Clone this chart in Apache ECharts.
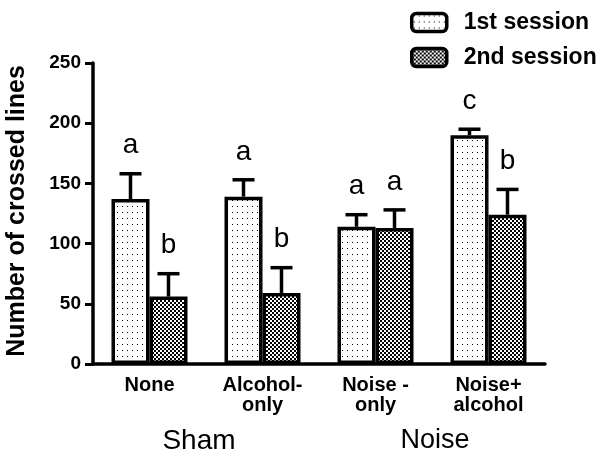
<!DOCTYPE html>
<html>
<head>
<meta charset="utf-8">
<script src="https://cdn.jsdelivr.net/npm/echarts@6/dist/echarts.min.js"></script>
<style>
  html, body { margin: 0; padding: 0; background: #fff; }
  #chart { width: 604px; height: 455px; }
</style>
</head>
<body>
<div id="chart"></div>
<script>
// Treatment groups along the x axis
const categories = ['None', 'Alcohol-\nonly', 'Noise -\nonly', 'Noise+\nalcohol'];
// Outer grouping labels (Sham: first two, Noise: last two)
const groupNames = ['Sham', 'Noise'];
// Mean number of crossed lines
const session1 = [137, 139, 114, 190];
const session2 = [56, 59, 113, 124];
// Standard error (upper whisker only)
const session1Err = [21, 14, 10, 5];
const session2Err = [19, 21, 15, 21];
// Significance letters above each bar
const session1Letters = ['a', 'a', 'a', 'c'];
const session2Letters = ['b', 'b', 'a', 'b'];
// Y axis ticks
const yTicks = [0, 50, 100, 150, 200, 250];

const FONT = '"Liberation Sans", Arial, Helvetica, sans-serif';
const BAR_W = 38;
const STROKE = 3.5;

// Fine dot fill for the first session
function dotPattern() {
  const c = document.createElement('canvas');
  c.width = 5; c.height = 6;
  const g = c.getContext('2d');
  g.fillStyle = '#fff'; g.fillRect(0, 0, 5, 6);
  g.fillStyle = '#000'; g.fillRect(2, 2, 1, 1);
  return c;
}
// Checkerboard fill for the second session
function checkPattern() {
  const c = document.createElement('canvas');
  c.width = 4; c.height = 4;
  const g = c.getContext('2d');
  g.fillStyle = '#fff'; g.fillRect(0, 0, 4, 4);
  g.fillStyle = '#000';
  g.fillRect(0, 0, 2, 2);
  g.fillRect(2, 2, 2, 2);
  return c;
}
const fill1 = { image: dotPattern(), repeat: 'repeat' };
const fill2 = { image: checkPattern(), repeat: 'repeat' };

function errorData(means, errs) {
  return means.map((m, i) => [i, m, errs[i]]);
}

// Upper error whisker with cap, plus significance letter
function makeErrorRender(offset, letters) {
  return function (params, api) {
    const idx = api.value(0);
    const mean = api.value(1);
    const err = api.value(2);
    const top = api.coord([idx, mean]);
    const end = api.coord([idx, mean + err]);
    const x = top[0] + offset;
    const capHalf = 11;
    const lineStyle = { stroke: '#000', lineWidth: STROKE };
    return {
      type: 'group',
      children: [
        { type: 'line', shape: { x1: x, y1: top[1], x2: x, y2: end[1] }, style: lineStyle },
        { type: 'line', shape: { x1: x - capHalf, y1: end[1], x2: x + capHalf, y2: end[1] }, style: lineStyle },
        {
          type: 'text',
          x: x, y: end[1] - 14,
          style: {
            text: letters[idx], fill: '#000', font: '28px ' + FONT,
            align: 'center', verticalAlign: 'bottom'
          }
        }
      ]
    };
  };
}

const chart = echarts.init(document.getElementById('chart'), null, { renderer: 'canvas' });

const yTitle = {
  type: 'text', x: 17, y: 211, rotation: Math.PI / 2,
  style: {
    text: 'Number of crossed lines', fill: '#000',
    font: 'bold 25px ' + FONT, align: 'center', verticalAlign: 'middle'
  }
};

const option = {
  backgroundColor: '#fff',
  animation: false,
  grid: { left: 93, right: 59, top: 63, bottom: 91, containLabel: false },
  legend: {
    orient: 'vertical',
    left: 410, top: 11, padding: 0,
    itemWidth: 35, itemHeight: 18, itemGap: 12,
    icon: 'roundRect',
    data: ['1st session', '2nd session'],
    itemStyle: { borderColor: '#000', borderWidth: STROKE },
    textStyle: { fontFamily: FONT, fontSize: 23, fontWeight: 'bold', color: '#000', padding: [0, 0, 0, 12] }
  },
  xAxis: {
    type: 'category',
    data: categories,
    axisLine: { lineStyle: { color: '#000', width: STROKE } },
    axisTick: { show: false },
    axisLabel: {
      color: '#000', fontFamily: FONT, fontSize: 20, fontWeight: 'bold',
      lineHeight: 20, margin: 11, interval: 0
    }
  },
  yAxis: {
    type: 'value',
    min: yTicks[0], max: yTicks[yTicks.length - 1], interval: 50,
    axisLine: { show: true, lineStyle: { color: '#000', width: STROKE } },
    axisTick: { show: true, length: 8, lineStyle: { color: '#000', width: 3 } },
    axisLabel: { color: '#000', fontFamily: FONT, fontSize: 19, fontWeight: 'bold', margin: 12 },
    splitLine: { show: false }
  },
  series: [
    {
      name: '1st session', type: 'bar', data: session1,
      barWidth: BAR_W, barGap: '0%',
      itemStyle: { color: fill1, borderColor: '#000', borderWidth: STROKE }
    },
    {
      name: '2nd session', type: 'bar', data: session2,
      barWidth: BAR_W, barGap: '0%',
      itemStyle: { color: fill2, borderColor: '#000', borderWidth: STROKE }
    },
    {
      name: 'err1', type: 'custom', z: 3,
      renderItem: makeErrorRender(-BAR_W / 2, session1Letters),
      data: errorData(session1, session1Err)
    },
    {
      name: 'err2', type: 'custom', z: 3,
      renderItem: makeErrorRender(BAR_W / 2, session2Letters),
      data: errorData(session2, session2Err)
    }
  ],
  graphic: [yTitle]
};
chart.setOption(option);

// Outer group labels centered beneath each pair of categories
const px = [0, 1, 2, 3].map(i => chart.convertToPixel({ xAxisIndex: 0 }, i));
chart.setOption({
  graphic: [
    yTitle,
    {
      type: 'text', x: (px[0] + px[1]) / 2 - 7, y: 441,
      style: { text: groupNames[0], fill: '#000', font: '28px ' + FONT, align: 'center', verticalAlign: 'middle' }
    },
    {
      type: 'text', x: (px[2] + px[3]) / 2 + 3, y: 441,
      style: { text: groupNames[1], fill: '#000', font: '27px ' + FONT, align: 'center', verticalAlign: 'middle' }
    }
  ]
});
</script>
</body>
</html>
